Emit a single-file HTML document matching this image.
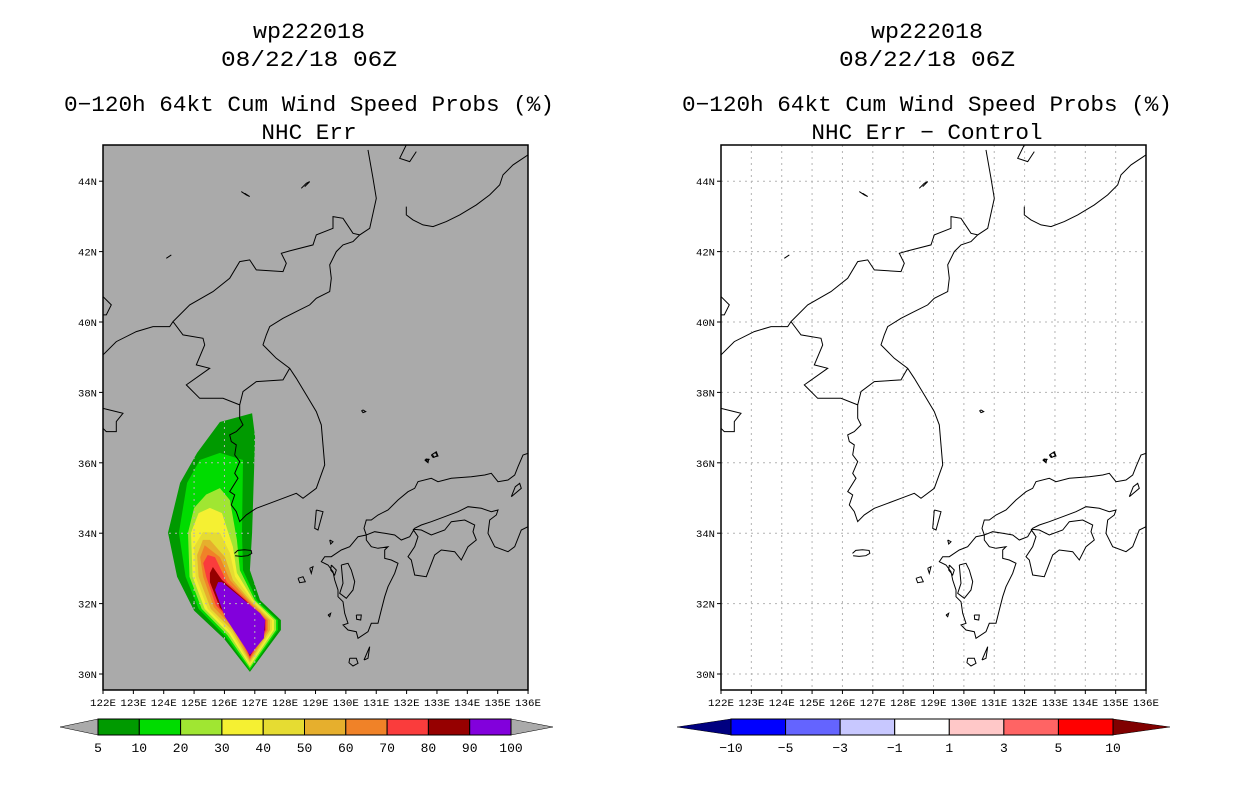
<!DOCTYPE html>
<html><head><meta charset="utf-8"><title>wp222018 wind speed probs</title>
<style>html,body{margin:0;padding:0;background:#fff}svg{display:block}
text{font-family:"Liberation Mono","DejaVu Sans Mono",monospace;fill:#000}</style></head>
<body>
<svg id="chart" xmlns="http://www.w3.org/2000/svg" width="1236" height="800" viewBox="0 0 1236 800"></svg>
<script>
// ---- chart data ----
const probLevels = [5,10,20,30,40,50,60,70,80,90];
const probColors = ['#009a00','#00dc00','#a0e632','#f5f032','#e6dc32','#e6af2d','#f08228','#fa3c3c','#960000','#8200dc'];
const probLabels = ['5','10','20','30','40','50','60','70','80','90','100'];
const diffColors = ['#0000ff','#6464ff','#c8c8ff','#ffffff','#ffc8c8','#ff6464','#ff0000'];
const diffLabels = ['-10','-5','-3','-1','1','3','5','10'];
const lonTicks = [122,123,124,125,126,127,128,129,130,131,132,133,134,135,136];
const latTicks = [30,32,34,36,38,40,42,44];
// contour polygons [lon,lat] for each probability level
const contour5 = [[125.85,37.16],[126.91,37.41],[127.01,36.73],[126.91,34.01],[126.84,32.95],[127.17,32.10],[127.86,31.53],[127.86,31.25],[126.84,30.06],[125.99,31.0],[125.0,31.8],[124.44,32.76],[124.14,34.01],[124.54,35.43],[125.10,36.28]];
const contour10 = [[125.85,36.28],[126.61,36.08],[126.58,34.01],[126.61,32.95],[127.07,32.10],[127.76,31.53],[127.76,31.25],[126.84,30.11],[126.05,31.05],[125.15,31.85],[124.72,32.76],[124.5,34.01],[124.77,35.43],[125.19,36.08]];
const contour20 = [[125.85,35.28],[126.18,34.94],[126.41,33.81],[126.51,32.95],[127.0,32.10],[127.70,31.53],[127.70,31.25],[126.84,30.17],[126.1,31.1],[125.25,31.85],[124.85,32.76],[124.8,34.01],[125.0,34.72],[125.4,35.1]];
const contour30 = [[125.52,34.72],[125.92,34.57],[126.28,33.61],[126.41,32.87],[126.95,32.10],[127.63,31.53],[127.63,31.25],[126.84,30.23],[126.15,31.15],[125.35,31.85],[124.95,32.76],[124.9,34.01],[125.15,34.57]];
const contour40 = [[125.29,34.03],[125.85,34.01],[126.18,33.44],[126.35,32.76],[126.9,32.10],[127.57,31.53],[127.57,31.25],[126.84,30.28],[126.2,31.2],[125.45,31.85],[125.05,32.76],[125.0,33.61]];
const contour50 = [[125.29,33.81],[125.52,33.81],[126.02,33.32],[126.28,32.67],[126.84,32.10],[127.50,31.53],[127.50,31.25],[126.84,30.34],[126.25,31.25],[125.55,31.85],[125.15,32.76],[125.1,33.38]];
const contour60 = [[125.35,33.66],[125.85,33.32],[126.18,32.67],[126.78,32.10],[127.43,31.53],[127.43,31.25],[126.84,30.40],[126.3,31.3],[125.65,31.9],[125.3,32.76],[125.2,33.32]];
const contour70 = [[125.45,33.38],[125.69,33.32],[126.08,32.61],[126.72,32.10],[127.38,31.53],[127.38,31.25],[126.84,30.45],[126.35,31.35],[125.72,31.95],[125.4,32.76],[125.3,33.15]];
const contour80 = [[125.62,33.04],[125.92,32.67],[126.68,32.10],[127.34,31.53],[127.34,31.25],[126.84,30.50],[126.41,31.35],[125.85,31.88],[125.52,32.61],[125.52,32.87]];
const contour90 = [[125.79,32.61],[125.92,32.61],[127.17,31.73],[127.34,31.53],[127.30,31.02],[126.84,30.54],[126.02,31.62],[125.69,32.39]];
const contours = [contour5,contour10,contour20,contour30,contour40,contour50,contour60,contour70,contour80,contour90];

// ---- basemap coastlines (reference-grid units, converted to lon/lat below) ----
const coastA = [
 "1275,30 1230,60 1200,90 1190,120 1160,150 1120,180 1070,210 1030,230 990,245 960,240 930,225 910,210 910,185",
 "910,0 890,40 920,50 940,20",
 "795,15 810,100 820,160 800,250 770,270 750,290 720,300 700,320 680,360 685,400 680,440 640,460 620,480 580,500 540,520 500,545 490,570 480,600 500,620 520,640 560,670 580,700 610,750 640,800 655,840 660,900 665,960 640,1030 600,1060 580,1045 540,1060 500,1075 460,1090 430,1110 410,1130 400,1100 385,1080 395,1050 380,1040 405,1000 395,985 410,950 395,930 400,900 385,890 380,870 400,860 420,840 410,820 410,800 410,780",
 "0,630 40,590 100,560 150,545 200,545 210,530 240,570 300,580 305,600 280,660 320,670 250,720 290,760 360,760 410,780",
 "210,530 260,480 330,440 380,400 410,350 440,345 460,375 540,380 550,355 535,325 560,318 630,300 640,270 690,250 690,215 720,220 750,265 770,270",
 "560,670 540,705 460,710 420,740 410,780",
 "0,790 40,800 60,805 40,830 40,860 10,860 0,850",
 "0,455 25,480 10,510 0,510",
 "415,140 430,150 440,155 425,145",
 "595,130 610,115 620,110 605,125",
 "190,340 205,330",
 "780,795 788,800 780,803 776,798 780,795",
 "988,928 998,922 1003,932 993,937 988,928",
 "968,942 978,944 972,950 968,942"
];
const coastB = [
 "750,10 735,15 720,50 710,75 690,90 660,95 640,70 620,75 580,80 520,85 480,95 460,85 420,95 410,115 390,125 360,150 330,180 300,195 280,210 265,210 258,235 265,255 290,245 320,250 350,255 370,270 395,260 410,235 430,225 460,215 500,200 540,185 570,170 610,175 640,185 660,180 655,195 635,210 630,250 650,290 690,305 710,290 730,240 750,230",
 "405,238 430,240 460,255 500,240 520,215 560,210 590,225 585,245 595,270 570,290 550,330 530,305 490,300 470,315 445,380 410,375 400,330 390,320 410,290 420,260 405,238",
 "265,255 240,260 215,290 190,300 160,320 140,320 130,335 150,345 165,365 170,390 180,420 180,440 195,455 200,490 210,520 195,525 210,540 235,545 240,565 270,545 280,520 300,520 310,480 320,440 330,410 350,370 360,340 340,330 320,325 320,300 330,290 300,295 280,290 265,270 265,255",
 "160,345 175,360 170,375 158,360 160,345",
 "190,345 210,340 220,360 230,395 225,420 205,445 185,430 195,400 190,345",
 "115,180 135,185 120,240 110,235 115,180",
 "215,625 235,625 240,640 225,648 213,638 215,625",
 "258,630 275,590 270,625 258,630",
 "60,385 75,380 82,395 65,398 60,385",
 "95,355 105,350 100,370 95,355",
 "155,270 165,275 158,282 155,270",
 "460,15 475,5 480,18 465,22 460,15",
 "440,30 452,28 450,38 440,30",
 "700,140 712,110 725,100 730,115 700,140",
 "235,495 250,495 248,510 236,508 235,495",
 "150,495 158,490 155,500 150,495"
];
const jeju = "-20,-5 -10,-14 10,-16 30,-14 32,-5 20,2 0,4 -18,2";
function gridA(x,y){return [122+x/91.08, 45.03-y/105.6];}
function gridB(x,y){return [127.764+x/91.08, 36.364-y/105.6];}

// ---- projection ----
const LON0=122, LAT0=30, PXLON=30.36, PXLAT=35.2;
function xOf(lon,ox){return ox+103+(lon-LON0)*PXLON;}
function yOf(lat){return 674-(lat-LAT0)*PXLAT;}

const NS="http://www.w3.org/2000/svg";
const svg=document.getElementById('chart');
function mk(tag,attrs,parent){const e=document.createElementNS(NS,tag);for(const k in attrs)e.setAttribute(k,attrs[k]);(parent||svg).appendChild(e);return e;}
function txt(s,x,y,size,anchor,parent,tl){const t=mk('text',{x:x,y:y,'font-size':size,'text-anchor':anchor||'middle'},parent);if(tl){t.setAttribute('textLength',tl);t.setAttribute('lengthAdjust','spacingAndGlyphs');}t.textContent=s;return t;}

function coastPaths(ox){
  let d='';
  const add=(str,fn)=>{const pts=str.trim().split(/\s+/).map(p=>{const [a,b]=p.split(',').map(Number);const ll=fn(a,b);return xOf(ll[0],ox).toFixed(1)+','+yOf(ll[1]).toFixed(1);});d+='M'+pts.join('L');};
  coastA.forEach(s=>add(s,gridA));
  coastB.forEach(s=>add(s,gridB));
  add(jeju,(a,b)=>[126.55+a/91.08,33.38-b/105.6]);
  return d;
}

function drawMap(ox,panel,title2,withFill){
  const g=mk('g',{},svg);
  
  
  const cx=ox+309;
  const t1=txt('wp222018',cx,38,22,'middle',g,112);
  
  
  const t2=txt('08/22/18 06Z',cx,66,22,'middle',g,176);
  
  
  const t3=txt('0\u2212120h 64kt Cum Wind Speed Probs (%)',cx,111,22,'middle',g,490);
  
  
  const t4=txt(title2,cx,139,22,'middle',g,title2.length*13.6);
  
  

  const x0=ox+103,y0=145,w=425,h=545;
  const cid='clip'+panel;
  const cp=mk('clipPath',{id:cid},g);mk('rect',{x:x0,y:y0,width:w,height:h},cp);
  const bg=mk('rect',{x:x0,y:y0,width:w,height:h,fill:withFill?'#aaaaaa':'#ffffff'},g);
  
  
  const inner=mk('g',{'clip-path':'url(#'+cid+')'},g);
  if(withFill){
    contours.forEach((poly,i)=>{
      const p=mk('polygon',{points:poly.map(q=>xOf(q[0],ox).toFixed(1)+','+yOf(q[1]).toFixed(1)).join(' '),fill:probColors[i]},inner);
      
      
    });
    const sc=mk('clipPath',{id:'swathclip'},g);
    mk('polygon',{points:contour5.map(q=>xOf(q[0],ox).toFixed(1)+','+yOf(q[1]).toFixed(1)).join(' ')},sc);
  }
  const grid=mk('g',{stroke:'#b4b4b4','stroke-width':1,'stroke-dasharray':'2,4',fill:'none'},inner);
  if(withFill)grid.setAttribute('clip-path','url(#swathclip)');
  
  
  lonTicks.forEach(l=>{const x=xOf(l,ox);mk('line',{x1:x,x2:x,y1:y0,y2:y0+h},grid);});
  latTicks.forEach(l=>{const y=yOf(l);mk('line',{x1:x0,x2:x0+w,y1:y,y2:y},grid);});
  const coast=mk('path',{d:coastPaths(ox),fill:'none',stroke:'#000','stroke-width':1},inner);
  
  
  const fr=mk('rect',{x:x0,y:y0,width:w,height:h,fill:'none',stroke:'#000','stroke-width':1.5},g);
  
  
  const ax=mk('g',{},g);
  
  
  lonTicks.forEach(l=>{const x=xOf(l,ox);mk('line',{x1:x,x2:x,y1:y0+h,y2:y0+h+4,stroke:'#000'},ax);
    txt(l+'E',x,y0+h+16,10,'middle',ax,26);});
  const ay=mk('g',{},g);
  
  
  latTicks.forEach(l=>{const y=yOf(l);mk('line',{x1:x0-4,x2:x0,y1:y,y2:y,stroke:'#000'},ay);
    txt(l+'N',x0-6,y+4,10,'end',ay,19);});
}

function drawBar(x0,x1,colors,labels,leftTri,rightTri,lx,rx,panel){
  const g=mk('g',{},svg);
  
  
  const y0=719,y1=735,ym=727;
  const bw=(x1-x0)/colors.length;
  const lt=mk('polygon',{points:`${x0},${y0} ${lx},${ym} ${x0},${y1}`,fill:leftTri,stroke:'#000','stroke-width':0.5},g);
  
  
  const rt=mk('polygon',{points:`${x1},${y0} ${rx},${ym} ${x1},${y1}`,fill:rightTri,stroke:'#000','stroke-width':0.5},g);
  
  
  colors.forEach((c,i)=>{const r=mk('rect',{x:x0+i*bw,y:y0,width:bw,height:y1-y0,fill:c,stroke:'#000','stroke-width':1},g);
    
    });
  labels.forEach((s,i)=>{const t=txt(s.replace('-','\u2212'),x0+i*bw,752,13,'middle',g);
    
    });
}

drawMap(0,'left','NHC Err',true);
drawMap(618,'right','NHC Err \u2212 Control',false);
drawBar(98,511,probColors,probLabels,'#aaaaaa','#aaaaaa',60,553,'left');
drawBar(731,1113,diffColors,diffLabels,'#000080','#800000',677,1170,'right');
</script>
</body></html>
